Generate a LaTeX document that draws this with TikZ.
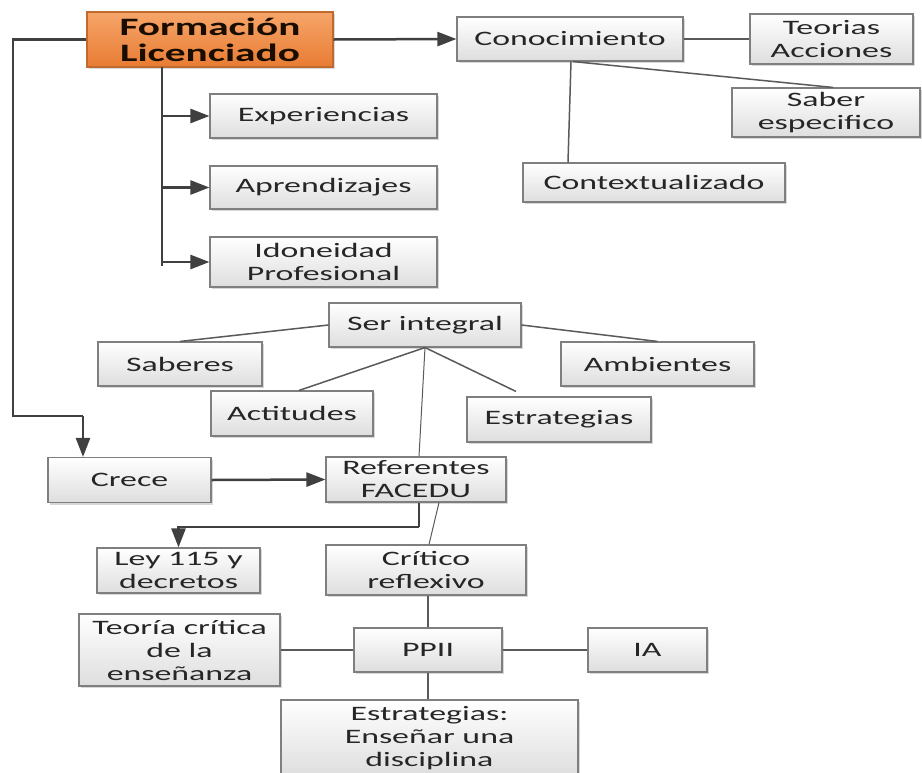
\documentclass[tikz,border=0pt]{standalone}
\usepackage{fontspec}
\setmainfont{Carlito}[FakeStretch=1.65]
\usetikzlibrary{arrows.meta,shadows}
\definecolor{txt}{HTML}{262626}
\definecolor{bordc}{HTML}{7F7F7F}
\definecolor{linec}{HTML}{404040}
\definecolor{plainc}{HTML}{5A5A5A}
\definecolor{orTop}{HTML}{F6A56A}
\definecolor{orBot}{HTML}{E87C33}
\definecolor{orBorder}{HTML}{C06A2E}
\tikzset{
  box/.style={draw=bordc, line width=1.1pt, top color=white, bottom color=black!13,
    drop shadow={shadow xshift=2pt, shadow yshift=-2pt, fill=black!30, opacity=.5},
    inner sep=0pt, align=center, text=txt,
    font=\fontsize{20.5}{23}\selectfont},
  mainbox/.style={draw=orBorder, line width=1.1pt, top color=orTop, bottom color=orBot,
    drop shadow={shadow xshift=2pt, shadow yshift=-2pt, fill=black!30, opacity=.5},
    inner sep=0pt, align=center, text=black!90!orange,
    font=\fontsize{25}{26}\selectfont\bfseries},
  arrline/.style={draw=linec, line width=2.5pt, -{Triangle[length=19pt,width=14pt]}},
  pline/.style={draw=linec, line width=2.5pt},
  conn/.style={draw=plainc, line width=1.5pt},
  thin/.style={draw=plainc, line width=1pt}
}
\begin{document}
\begin{tikzpicture}[x=1pt,y=-1pt]
\useasboundingbox[fill=white] (0,0) rectangle (922,772);
% nodes
\node[mainbox, minimum width=246pt, minimum height=55pt] (F) at (210,39.5) {Formación\\Licenciado};
\node[box, minimum width=226pt, minimum height=44pt] (Con) at (570,39) {Conocimiento};
\node[box, minimum width=163pt, minimum height=50pt] (Teo) at (831.5,39) {Teorias\\Acciones};
\node[box, minimum width=188pt, minimum height=49pt] (Sab) at (826,112.5) {Saber\\especifico};
\node[box, minimum width=262pt, minimum height=39pt] (Ctx) at (654,182.5) {Contextualizado};
\node[box, minimum width=227pt, minimum height=44pt] (Exp) at (323.5,116) {Experiencias};
\node[box, minimum width=227pt, minimum height=43pt] (Apr) at (323.5,187.5) {Aprendizajes};
\node[box, minimum width=227pt, minimum height=50pt] (Ido) at (323.5,262) {Idoneidad\\Profesional};
\node[box, minimum width=192pt, minimum height=44pt] (Ser) at (425,325) {Ser integral};
\node[box, minimum width=164pt, minimum height=44pt] (Sbr) at (180,364) {Saberes};
\node[box, minimum width=193pt, minimum height=44pt] (Amb) at (657.5,364) {Ambientes};
\node[box, minimum width=162pt, minimum height=45pt] (Act) at (292,413.5) {Actitudes};
\node[box, minimum width=184pt, minimum height=45pt] (Est) at (559,419.5) {Estrategias};
\node[box, minimum width=163pt, minimum height=45pt] (Cre) at (129.5,480) {Crece};
\node[box, minimum width=180pt, minimum height=45pt] (Ref) at (416,479.5) {Referentes\\FACEDU};
\node[box, minimum width=163pt, minimum height=45pt] (Ley) at (178.5,570.5) {Ley 115 y\\decretos};
\node[box, minimum width=200pt, minimum height=50pt] (Cri) at (426,570) {Crítico\\reflexivo};
\node[box, minimum width=201pt, minimum height=72pt] (Tcr) at (179.5,650) {Teoría crítica\\de la\\enseñanza};
\node[box, minimum width=148pt, minimum height=44pt] (PP) at (428,650) {PPII};
\node[box, minimum width=119pt, minimum height=44pt] (IA) at (647.5,650) {IA};
\node[box, minimum width=297pt, minimum height=76pt] (EsE) at (429.5,738) {Estrategias:\\Enseñar una\\disciplina};
% helper coordinates
\coordinate (lk) at (13,416);
\coordinate (ck) at (83,416);
\coordinate (tr0) at (162,67);
\coordinate (tr1) at (162,266);
\coordinate (rk) at (419,527);
% top connectors
\draw[arrline] (F.east) -- (Con.west);
\draw[pline] (F.west) -| (lk) -- (ck);
\draw[arrline] (ck) -- (Cre.north -| ck);
\draw[pline] (tr0) -- (tr1);
\draw[arrline] (Exp.west -| tr0) -- (Exp.west);
\draw[arrline] (Apr.west -| tr0) -- (Apr.west);
\draw[arrline] (Ido.west -| tr0) -- (Ido.west);
\draw[conn] (Con.east) -- (Teo.west);
\draw[conn] ([xshift=3pt]Con.south) -- ([xshift=7pt]Sab.north);
\draw[conn] ([xshift=1pt]Con.south) -- ([xshift=-86pt]Ctx.north);
% ser integral
\draw[conn] (Ser.west) -- (Sbr.north);
\draw[conn] (Ser.east) -- (Amb.north);
\draw[conn] (Ser.south) -- ([xshift=7pt]Act.north);
\draw[conn] (Ser.south) -- ([xshift=-43pt,yshift=5pt]Est.north);
\draw[thin] (Ser.south) -- ([xshift=3pt]Ref.north);
% lower
\draw[arrline] (Cre.east) -- (Ref.west);
\draw[pline] ([xshift=3pt]Ref.south) -- (rk);
\draw[arrline] (rk) -| (Ley.north);
\draw[thin] ([xshift=23pt]Ref.south) -- ([xshift=3pt]Cri.north);
\draw[conn] (Cri.south -| PP.north) -- (PP.north);
\draw[conn] (PP.west) -- (Tcr.east);
\draw[conn] (PP.east) -- (IA.west);
\draw[conn] (PP.south) -- (PP.south |- EsE.north);
\end{tikzpicture}
\end{document}
